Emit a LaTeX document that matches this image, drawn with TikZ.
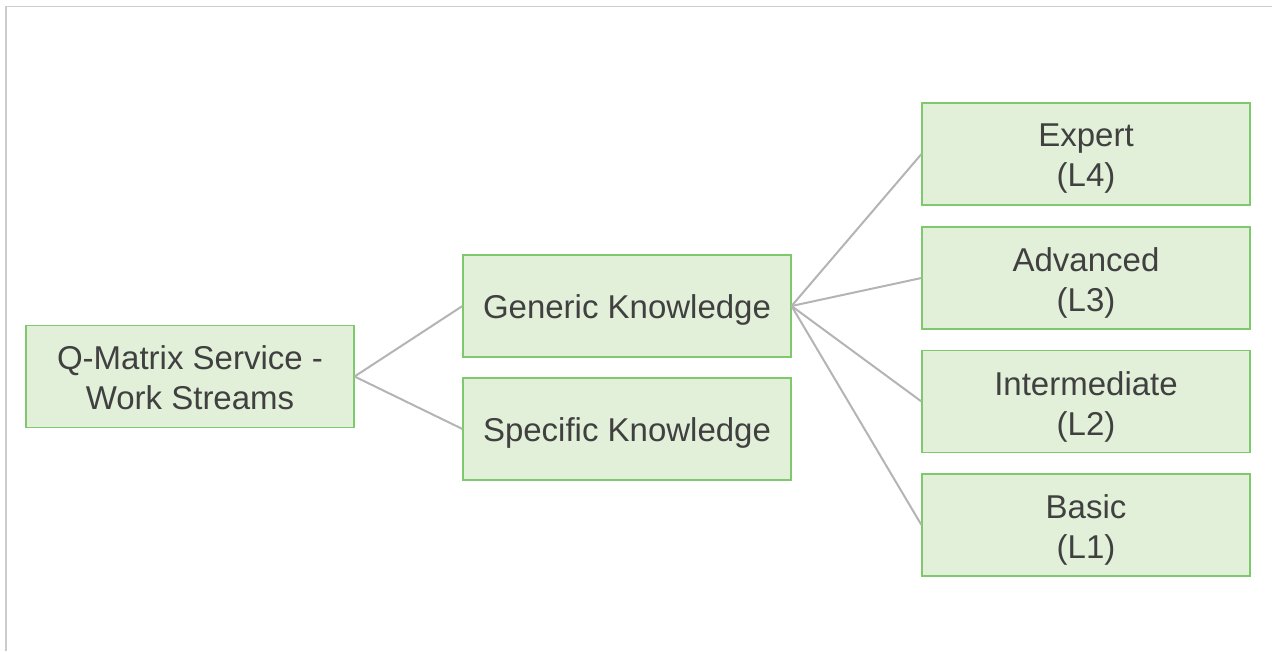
\documentclass[tikz,border=0pt]{standalone}
\usepackage{fontspec}
\setmainfont{Liberation Sans}
\definecolor{boxfill}{HTML}{E2F0D9}
\definecolor{boxline}{HTML}{7FC96D}
\definecolor{txt}{HTML}{404040}
\definecolor{conn}{HTML}{B4B4B4}
\definecolor{frame}{HTML}{CCCCCC}
\begin{document}
\begin{tikzpicture}[x=1pt,y=-1pt,
  box/.style={draw=boxline,line width=1.1pt,fill=boxfill,minimum width=328pt,minimum height=102pt,inner sep=0pt},
  lab/.style={inner sep=0pt,align=center,text=txt,font=\fontsize{33}{40}\selectfont},
  conline/.style={draw=conn,line width=2pt}]
\useasboundingbox (0,0) rectangle (1272,651);
\draw[frame,line width=1.2pt] (6,651) coordinate (fa) -- (6,6.5) coordinate (fb) -- (1272,6.5) coordinate (fc);
\node[box,label={[lab,yshift=-1pt]center:Q-Matrix Service -\\Work Streams}] (root) at (190,376.5) {};
\node[box,label={[lab,yshift=-4pt]center:Generic Knowledge}] (gen) at (627,306) {};
\node[box,label={[lab,yshift=-4pt]center:Specific Knowledge}] (spec) at (627,429) {};
\node[box,label={[lab,yshift=-5pt]center:Expert\\(L4)}] (l4) at (1086,154) {};
\node[box,label={[lab,yshift=-5pt]center:Advanced\\(L3)}] (l3) at (1086,278) {};
\node[box,label={[lab,yshift=-5pt]center:Intermediate\\(L2)}] (l2) at (1086,401.5) {};
\node[box,label={[lab,yshift=-5pt]center:Basic\\(L1)}] (l1) at (1086,525) {};
\draw[conline] (root.east) -- (gen.west);
\draw[conline] (root.east) -- (spec.west);
\foreach \n in {l4,l3,l2,l1} \draw[conline] (gen.east) -- (\n.west);
\end{tikzpicture}
\end{document}
